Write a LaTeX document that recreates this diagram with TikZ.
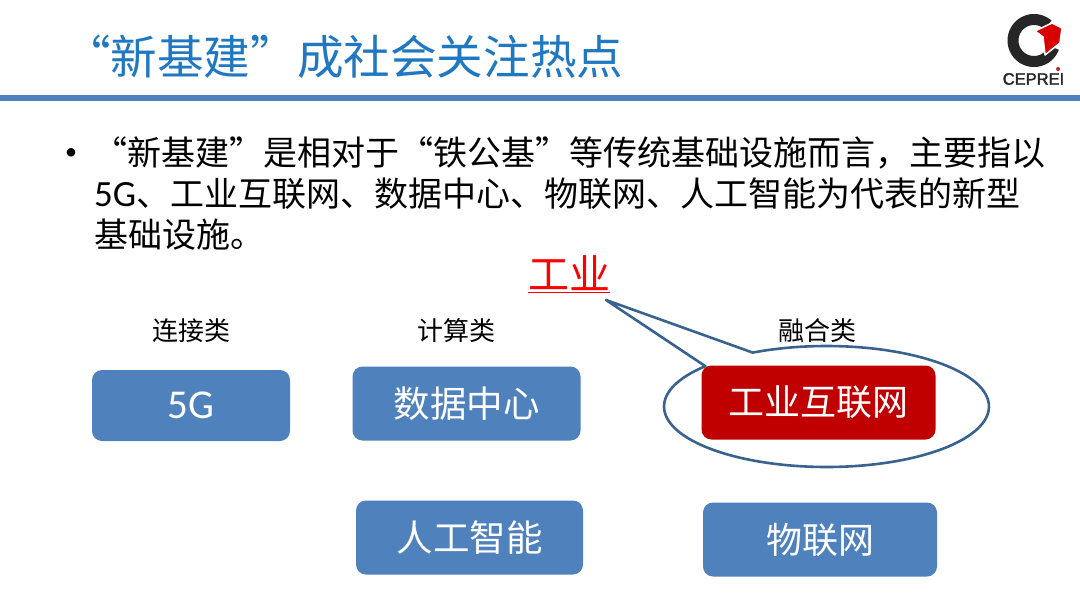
\documentclass[tikz,border=0pt]{standalone}
\usepackage{fontspec}
\setmainfont{Noto Sans CJK SC}
\newfontfamily\lat{Carlito}
\newfontfamily\logofont{Liberation Sans}[FakeBold=2]
\definecolor{band}{HTML}{4F81BD}
\definecolor{titleblue}{HTML}{1F78C1}
\definecolor{boxblue}{HTML}{4F81BD}
\definecolor{boxred}{HTML}{C00000}
\definecolor{calloutline}{HTML}{38638F}
\newcommand{\fs}[1]{\fontsize{#1pt}{#1pt}\selectfont}
\tikzset{
  x=1pt,y=-1pt,
  boxnode/.style={rounded corners=10pt,fill=boxblue,text=white,inner sep=0pt,align=center},
  label/.style={inner sep=0pt,text=black,font=\fs{26}},
  bodyline/.style={inner sep=0pt,anchor=west,text=black,font=\fs{34}},
}
\begin{document}
\begin{tikzpicture}
\useasboundingbox (0,0) rectangle (1080,608);
\fill[white] (0,0) rectangle (1080,608);
% title
\node[inner sep=0pt,anchor=west,text=titleblue,font=\fs{46.6}] (title) at (64,57) {“新基建”成社会关注热点};
\fill[band] (0,95) rectangle (1080,101);
% logo
\draw[line width=11pt,black!85] plot[smooth,samples=60,domain=20:312] ({1034+21*cos(\x)},{40.5+21*sin(\x)});
\fill[red!85!black,draw=white,line width=1.5pt,line join=round] (1035,31) -- (1052,23) -- (1062,28) -- (1060,43) -- (1045,55) -- (1043,37) -- cycle;
\node[inner sep=0pt,text=black!85,font=\logofont\fs{16.5}] (logo) at (1033.5,79) {CEPREI};
\node[inner sep=0pt,text=red!70!black,font=\logofont\fs{5}] (reg) at (1058,69) {®};
% body
\node[inner sep=0pt,text=black,font=\lat\fs{24}] (bullet) at (71,154) {•};
\node[bodyline] (l1) at (93,153) {“新基建”是相对于“铁公基”等传统基础设施而言，主要指以};
\node[bodyline] (l2) at (94,194) {{\lat\fs{37}5G}、工业互联网、数据中心、物联网、人工智能为代表的新型};
\node[bodyline] (l3) at (94,235) {基础设施。};
% callout
\coordinate (tip) at (606,300);
\draw[calloutline,line width=2.6pt,line join=round,fill=white]
  (tip) -- plot[smooth,samples=90,domain=243:581.8] ({826.5+162.5*cos(\x)},{406.5+60.5*sin(\x)}) -- cycle;
% red word
\node[inner sep=0pt,text=red,font=\fs{41}] (gy) at (569,274) {\underline{工业}};
% labels
\node[label] (c1) at (191,331) {连接类};
\node[label] (c2) at (456,331) {计算类};
\node[label] (c3) at (817,331) {融合类};
% boxes
\node[boxnode,minimum width=198pt,minimum height=71pt,font=\lat\fs{41}] (b1) at (191,405.5) {5G};
\node[boxnode,minimum width=228pt,minimum height=74pt,font=\fs{36.5}] (b2) at (466.5,403.5) {数据中心};
\node[boxnode,fill=boxred,minimum width=234pt,minimum height=74pt,font=\fs{36}] (b3) at (818.5,402.5) {工业互联网};
\node[boxnode,minimum width=227pt,minimum height=74pt,font=\fs{36.5}] (b4) at (469.5,537.5) {人工智能};
\node[boxnode,minimum width=234pt,minimum height=74pt,font=\fs{36}] (b5) at (820,539.5) {物联网};
\end{tikzpicture}
\end{document}
